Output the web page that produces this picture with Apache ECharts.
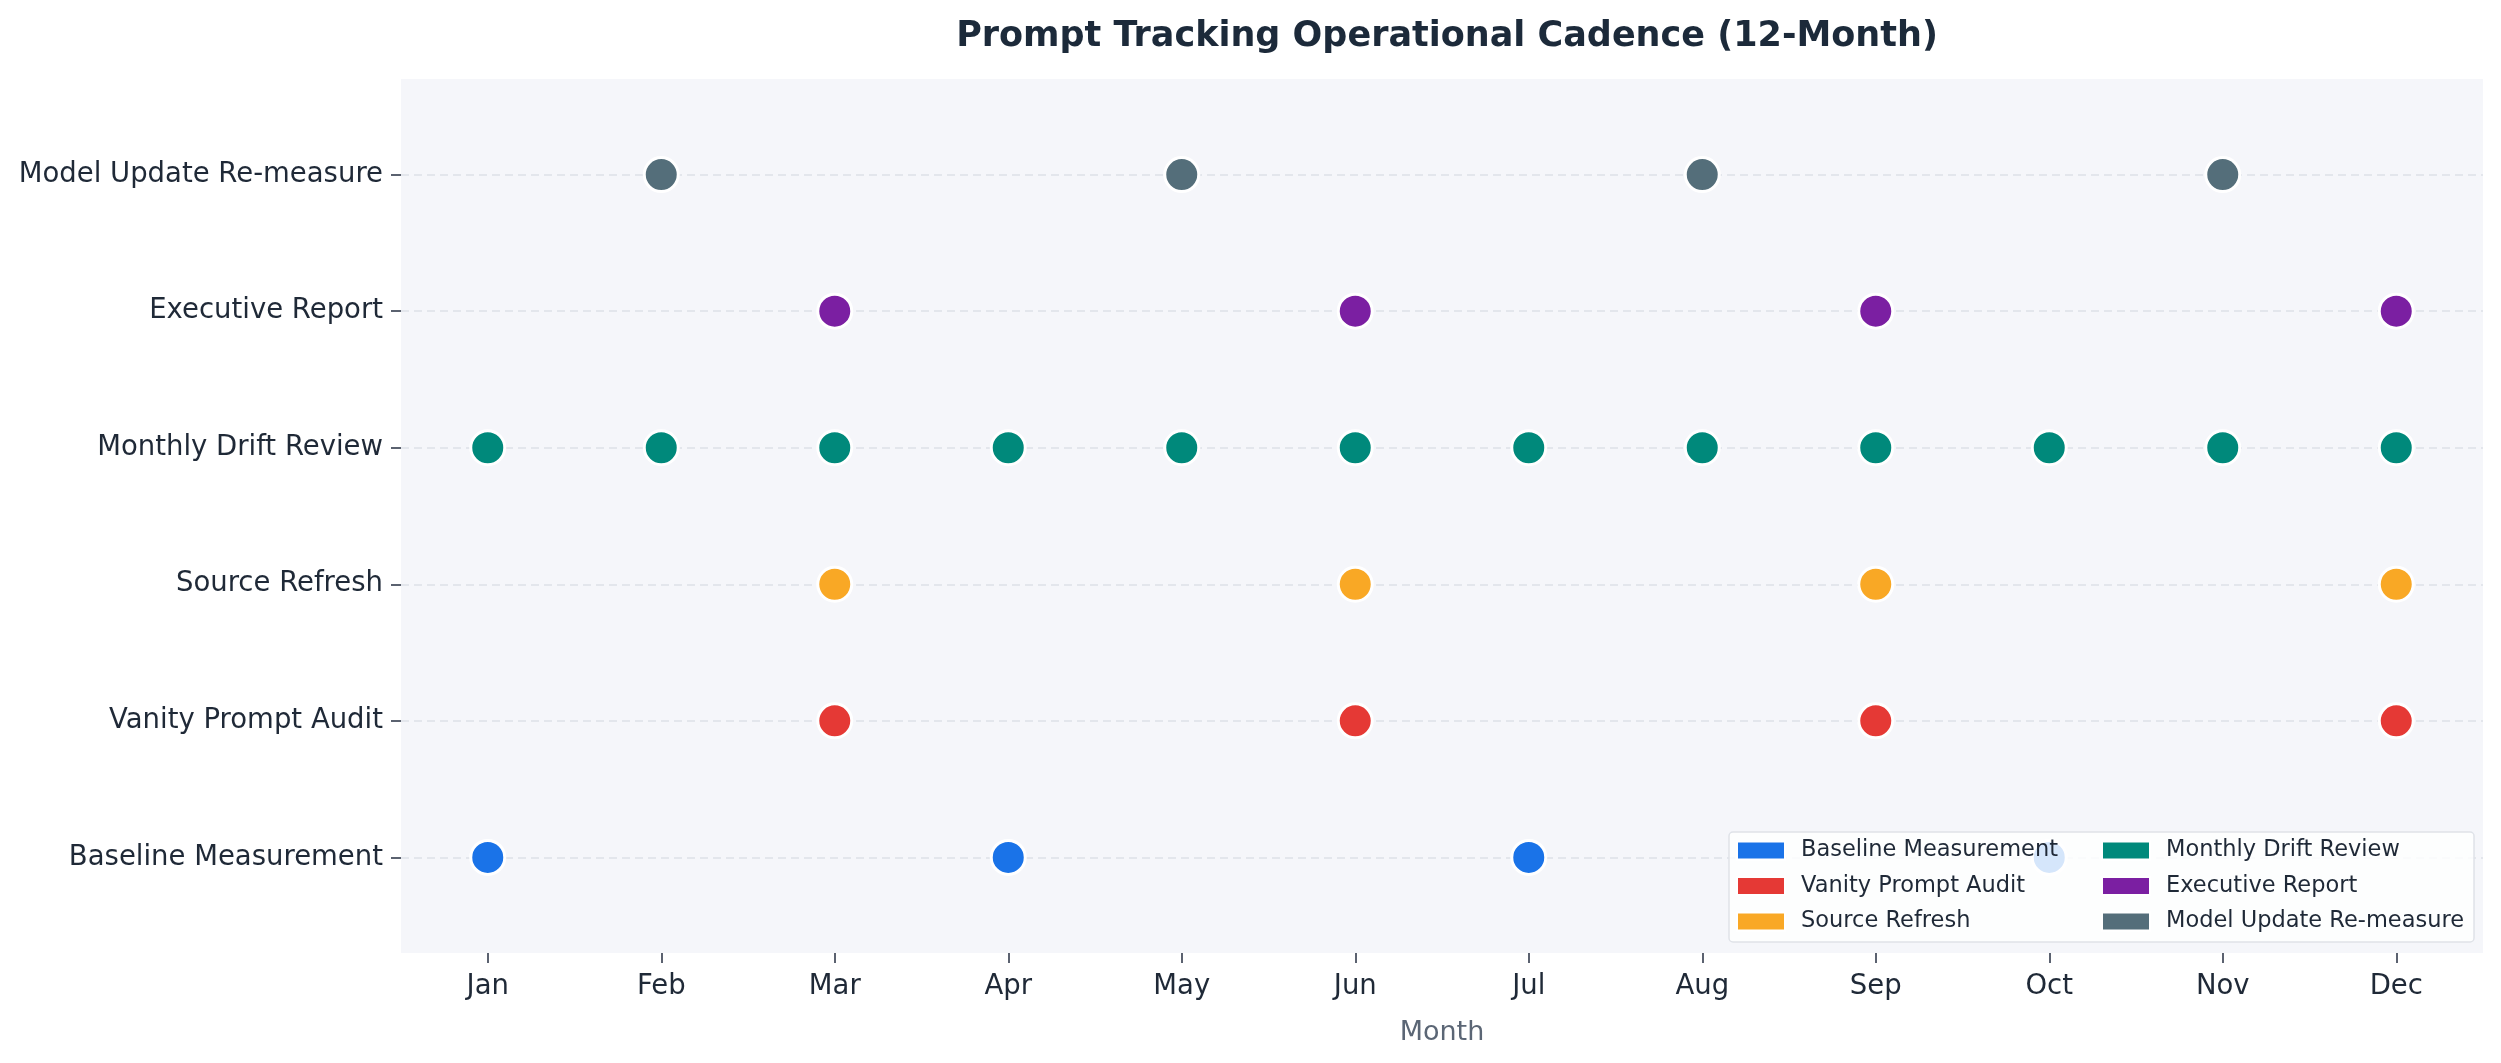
<!DOCTYPE html>
<html>
<head>
<meta charset="utf-8">
<title>Prompt Tracking Operational Cadence</title>
<script src="https://cdn.jsdelivr.net/npm/echarts@6/dist/echarts.min.js"></script>
<style>
	html, body { margin: 0; padding: 0; background: #ffffff; }
	#chart { width: 2501px; height: 1063px; }
</style>
</head>
<body>
<div id="chart"></div>
<script>
// 月份（x 轴）
var months = ['Jan', 'Feb', 'Mar', 'Apr', 'May', 'Jun', 'Jul', 'Aug', 'Sep', 'Oct', 'Nov', 'Dec'];
// 活动（y 轴，自下而上）
var activities = ['Baseline Measurement', 'Vanity Prompt Audit', 'Source Refresh',
	'Monthly Drift Review', 'Executive Report', 'Model Update Re-measure'];
var colors = ['#1a73e8', '#e53935', '#f9a825', '#00897b', '#7b1fa2', '#546e7a'];

// 每项活动发生的月份
var baselineMonths = ['Jan', 'Apr', 'Jul', 'Oct'];
var vanityMonths = ['Mar', 'Jun', 'Sep', 'Dec'];
var sourceMonths = ['Mar', 'Jun', 'Sep', 'Dec'];
var driftMonths = ['Jan', 'Feb', 'Mar', 'Apr', 'May', 'Jun', 'Jul', 'Aug', 'Sep', 'Oct', 'Nov', 'Dec'];
var execMonths = ['Mar', 'Jun', 'Sep', 'Dec'];
var modelMonths = ['Feb', 'May', 'Aug', 'Nov'];

var schedule = [baselineMonths, vanityMonths, sourceMonths, driftMonths, execMonths, modelMonths];

var FONT = 'DejaVu Sans';
var chart = echarts.init(document.getElementById('chart'));

var series = activities.map(function(name, i) {
	return {
		name: name,
		type: 'scatter',
		symbol: 'circle',
		symbolSize: 34,
		itemStyle: { color: colors[i], borderColor: '#ffffff', borderWidth: 3, opacity: 1 },
		emphasis: { disabled: true },
		z: 3,
		data: schedule[i].map(function(m) { return [m, i]; })
	};
});

var legendText = { fontFamily: FONT, fontSize: 22.5, lineHeight: 22, color: '#1f2937', padding: [0, 0, 0, 11] };

var option = {
	backgroundColor: '#ffffff',
	animation: false,
	textStyle: { fontFamily: FONT },
	title: {
		text: 'Prompt Tracking Operational Cadence (12-Month)',
		left: 1442,
		textAlign: 'center',
		top: 14,
		textStyle: { fontFamily: FONT, fontSize: 35, fontWeight: 'bold', color: '#1c2a3a' }
	},
	grid: {
		left: 401, right: 18, top: 79, bottom: 110,
		show: true, backgroundColor: '#f5f6fa', borderWidth: 0
	},
	legend: [{
		data: activities.slice(0, 3),
		orient: 'vertical',
		left: 1729, top: 832,
		padding: [7, 416, 9, 7],
		itemWidth: 48, itemHeight: 18, itemGap: 12.5,
		icon: 'rect',
		selectedMode: false,
		backgroundColor: 'rgba(255,255,255,0.82)',
		borderColor: '#dfe2e8', borderWidth: 1.5, borderRadius: 4,
		textStyle: legendText
	}, {
		data: activities.slice(3),
		orient: 'vertical',
		left: 2101, top: 839,
		padding: 0,
		z: 6,
		itemWidth: 48, itemHeight: 18, itemGap: 12.5,
		icon: 'rect',
		selectedMode: false,
		textStyle: legendText
	}],
	xAxis: {
		type: 'category',
		data: months,
		boundaryGap: true,
		name: 'Month',
		nameLocation: 'middle',
		nameGap: 66,
		nameTextStyle: { fontFamily: FONT, fontSize: 27, color: '#5b6675' },
		axisLine: { show: false, onZero: false },
		axisTick: { show: true, alignWithLabel: true, length: 10, lineStyle: { color: '#5b6270', width: 2 } },
		axisLabel: { margin: 20, fontFamily: FONT, fontSize: 27.5, color: '#1f2937' },
		splitLine: { show: false }
	},
	yAxis: {
		type: 'value',
		min: -0.7,
		max: 5.7,
		axisLine: { show: false, onZero: false },
		axisTick: {
			show: true, length: 10, customValues: [0, 1, 2, 3, 4, 5],
			lineStyle: { color: '#5b6270', width: 2 }
		},
		axisLabel: {
			customValues: [0, 1, 2, 3, 4, 5],
			margin: 18,
			fontFamily: FONT, fontSize: 27.5, color: '#1f2937',
			formatter: function(v) { return activities[Math.round(v)] || ''; }
		},
		splitLine: {
			show: true,
			lineStyle: { color: '#dde1e8', width: 1.5, type: [8, 5] }
		}
	},
	series: series
};

chart.setOption(option);
</script>
</body>
</html>
